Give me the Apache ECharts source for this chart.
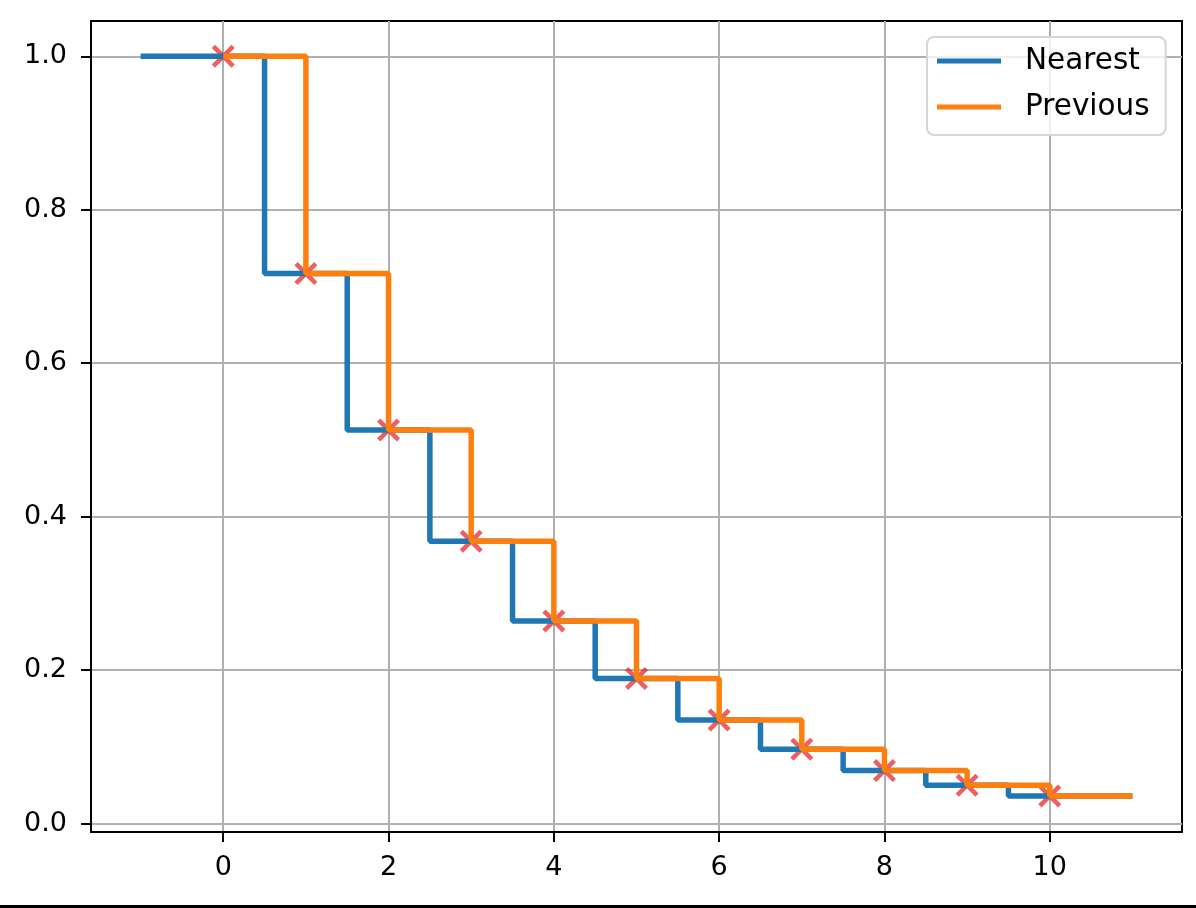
<!DOCTYPE html>
<html>
<head>
<meta charset="utf-8">
<script src="https://cdn.jsdelivr.net/npm/echarts@6/dist/echarts.min.js"></script>
<style>
html, body { margin: 0; padding: 0; background: #fff; }
#chart { width: 1196px; height: 908px; }
</style>
</head>
<body>
<div id="chart"></div>
<script>
// sample points (red crosses)
let xPoints = [0, 1, 2, 3, 4, 5, 6, 7, 8, 9, 10];
let yPoints = [1.0, 0.717, 0.513, 0.368, 0.264, 0.189, 0.135, 0.097, 0.069, 0.050, 0.036];
// x range each interpolated curve is drawn over
let nearestRange = [-1, 11];
let previousRange = [0, 11];
let seriesNames = ['Nearest', 'Previous'];
let xTicks = [0, 2, 4, 6, 8, 10];
let yTicks = [0, 0.2, 0.4, 0.6, 0.8, 1.0];

const FONT = 'DejaVu Sans';
const last = yPoints.length - 1;
// filled "x" marker shape
const CROSS = 'path://M0,1.4L1.4,0L5,3.6L8.6,0L10,1.4L6.4,5L10,8.6L8.6,10L5,6.4L1.4,10L0,8.6L3.6,5Z';

let points = xPoints.map((x, i) => [x, yPoints[i]]);
// nearest: extend flat to both ends
let nearestData = [[nearestRange[0], yPoints[0]]].concat(points, [[nearestRange[1], yPoints[last]]]);
// previous: starts at first sample, flat after the last one
let previousData = points.concat([[previousRange[1], yPoints[last]]]);

let chart = echarts.init(document.getElementById('chart'));

let axisLineStyle = { onZero: false, show: true, lineStyle: { color: '#000', width: 2 } };
let tickStyle = { length: 10, lineStyle: { color: '#000', width: 2 } };
let gridLineStyle = { show: true, lineStyle: { color: '#b0b0b0', width: 2 } };

let option = {
    animation: false,
    backgroundColor: '#fff',
    grid: {
        left: 91, right: 14, top: 21, bottom: 76,
        show: true,
        borderColor: '#000',
        borderWidth: 2
    },
    xAxis: {
        type: 'value',
        min: -1.6, max: 11.6,
        splitNumber: 6,
        axisLine: axisLineStyle,
        axisTick: Object.assign({ customValues: xTicks }, tickStyle),
        axisLabel: {
            customValues: xTicks, margin: 22,
            fontSize: 27, fontFamily: FONT, color: '#000'
        },
        splitLine: gridLineStyle
    },
    yAxis: {
        type: 'value',
        min: -0.011, max: 1.046,
        splitNumber: 5,
        axisLine: axisLineStyle,
        axisTick: Object.assign({ customValues: yTicks }, tickStyle),
        axisLabel: {
            customValues: yTicks, margin: 24,
            fontSize: 27, fontFamily: FONT, color: '#000',
            formatter: v => v.toFixed(1)
        },
        splitLine: gridLineStyle
    },
    legend: {
        orient: 'vertical',
        left: 927, top: 37,
        data: seriesNames.map(n => ({ name: n, icon: 'rect' })),
        itemWidth: 64, itemHeight: 5, itemGap: 16,
        padding: [9, 16, 13, 10],
        borderColor: '#d5d5d5', borderWidth: 2, borderRadius: 7,
        backgroundColor: 'rgba(255,255,255,0.8)',
        textStyle: { fontSize: 29.5, fontFamily: FONT, color: '#000', lineHeight: 30, padding: [0, 0, 0, 19] }
    },
    series: [
        {
            name: seriesNames[0],
            type: 'line',
            step: 'middle',
            showSymbol: false,
            color: '#1f77b4',
            lineStyle: { width: 5.5, color: '#1f77b4' },
            data: nearestData
        },
        {
            name: seriesNames[1],
            type: 'line',
            step: 'end',
            showSymbol: false,
            color: '#ff7f0e',
            lineStyle: { width: 5.5, color: '#ff7f0e' },
            data: previousData
        },
        {
            type: 'scatter',
            symbol: CROSS,
            symbolSize: 23,
            itemStyle: { color: 'rgba(232,20,20,0.85)' },
            data: points
        }
    ],
    graphic: [
        // dark edge at the bottom of the screenshot
        { type: 'rect', left: 0, bottom: 0, shape: { width: 1196, height: 3 }, style: { fill: '#000' } }
    ]
};

chart.setOption(option);
</script>
</body>
</html>
